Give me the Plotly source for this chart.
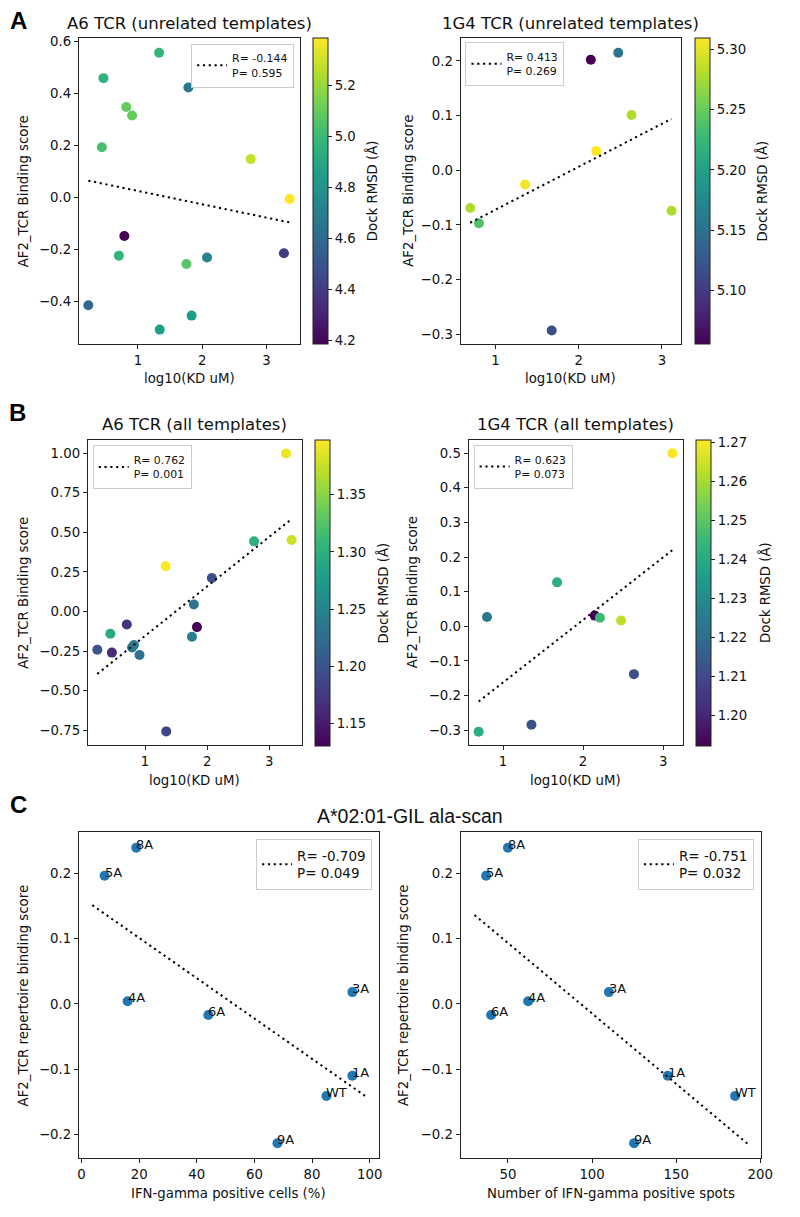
import plotly.graph_objects as go

FW, FH = 800, 1217
FONT = "DejaVu Sans"
SANS = "Liberation Sans"

# ---------------- data ----------------
# A6 TCR: log10(KD uM) shared by both A6 panels
a6_kd = [0.23, 0.44, 0.465, 0.705, 0.79, 0.82, 0.91, 1.33, 1.34, 1.755, 1.785, 1.835, 2.075, 2.755, 3.27, 3.36]
a6_unrel_score = [-0.415, 0.194, 0.460, -0.224, -0.148, 0.349, 0.316, 0.558, -0.509, -0.256, 0.424, -0.455, -0.231, 0.148, -0.215, -0.006]
a6_unrel_rmsd = [4.60, 5.03, 4.96, 4.97, 4.187, 5.10, 5.10, 4.98, 4.86, 5.07, 4.66, 4.85, 4.73, 5.28, 4.40, 5.386]
a6_all_score = [-0.242, -0.141, -0.260, -0.082, -0.228, -0.212, -0.275, 0.286, -0.758, -0.160, 0.044, -0.099, 0.212, 0.443, 0.998, 0.452]
a6_all_rmsd = [1.203, 1.291, 1.163, 1.171, 1.238, 1.240, 1.230, 1.398, 1.187, 1.246, 1.232, 1.131, 1.198, 1.300, 1.392, 1.377]

# 1G4 TCR
g4_kd = [0.695, 0.80, 1.355, 1.675, 2.145, 2.21, 2.475, 2.635, 3.115]
g4_unrel_score = [-0.069, -0.097, -0.026, -0.293, 0.202, 0.035, 0.215, 0.101, -0.074]
g4_unrel_rmsd = [5.279, 5.238, 5.305, 5.117, 5.0555, 5.3097, 5.152, 5.279, 5.279]
g4_all_score = [-0.304, 0.027, -0.284, 0.127, 0.031, 0.025, 0.017, -0.138, 0.4995]
g4_all_rmsd = [1.241, 1.2237, 1.212, 1.2417, 1.1923, 1.2456, 1.2629, 1.2119, 1.2707]

# A*02:01-GIL ala-scan
peptides = ["WT", "1A", "3A", "4A", "5A", "6A", "8A", "9A"]
ifn_cells = [85, 94, 94, 16, 8, 44, 19, 68]
ifn_spots = [185, 145, 110, 62, 37, 40, 50, 125]
rep_score = [-0.141, -0.110, 0.018, 0.004, 0.196, -0.017, 0.239, -0.213]

# regression lines (end points)
a6_unrel_fit = [0.065, -0.096]
g4_unrel_fit = [-0.096, 0.094]
a6_all_fit = [-0.395, 0.584]
g4_all_fit = [-0.217, 0.220]
cells_fit_x = [3.75, 98.5]
cells_fit_y = [0.151, -0.141]
spots_fit_x = [30.1, 192.5]
spots_fit_y = [0.136, -0.214]

stats = {
    "a6u": "R= -0.144<br>P= 0.595",
    "g4u": "R= 0.413<br>P= 0.269",
    "a6a": "R= 0.762<br>P= 0.001",
    "g4a": "R= 0.623<br>P= 0.073",
    "cc": "R= -0.709<br>P= 0.049",
    "cs": "R= -0.751<br>P= 0.032",
}

# ---------------- layout helpers (page pixel -> paper fraction) ----------------
def X(p):
    return p / FW

def Y(p):
    return 1 - p / FH

fig = go.Figure()

TICKF = dict(family=FONT, size=13.3, color="#111")
LINEC = "#222"
DOT = "2.2px,3.6px"

panels = [
    dict(i=1, xd=(78.3, 303.3), yd=(35, 342), xr=(0.084, 3.52), yr=(-0.565, 0.615), ydt=0.2, yf=".1f", xdt=1),
    dict(i=2, xd=(466.7, 691), yd=(35, 342), xr=(0.579, 3.228), yr=(-0.318, 0.242), ydt=0.1, yf=".1f", xdt=1),
    dict(i=3, xd=(87.3, 305), yd=(437.7, 744), xr=(0.0765, 3.522), yr=(-0.845, 1.086), ydt=0.25, yf=".2f", xdt=1),
    dict(i=4, xd=(475, 693.3), yd=(437.7, 744), xr=(0.571, 3.25), yr=(-0.343, 0.539), ydt=0.1, yf=".1f", xdt=1),
    dict(i=5, xd=(78.3, 383.3), yd=(831, 1158.3), xr=(-0.9, 103.1), yr=(-0.2364, 0.263), ydt=0.1, yf=".1f", xdt=20),
    dict(i=6, xd=(466.7, 772.3), yd=(831, 1158.3), xr=(21.8, 200.3), yr=(-0.2364, 0.263), ydt=0.1, yf=".1f", xdt=50),
]

layout = {}
for p in panels:
    i = p["i"]
    sx = "" if i == 1 else str(i)
    common = dict(showline=True, mirror=True, linecolor=LINEC, linewidth=1,
                  ticks="outside", ticklen=4, tickwidth=1, tickcolor=LINEC,
                  tickfont=TICKF, showgrid=False, zeroline=False)
    layout["xaxis" + sx] = dict(domain=[X(p["xd"][0]), X(p["xd"][1])], range=list(p["xr"]),
                                anchor="y" + sx, dtick=p["xdt"], tick0=0, **common)
    layout["yaxis" + sx] = dict(domain=[Y(p["yd"][1]), Y(p["yd"][0])], range=list(p["yr"]),
                                anchor="x" + sx, dtick=p["ydt"], tick0=0, tickformat=p["yf"], **common)


def colorbar(left, top, bottom, dtick, fmt):
    return dict(x=X(left), xanchor="left", y=Y(top), yanchor="top",
                len=(bottom - top) / FH, lenmode="fraction",
                thickness=15, thicknessmode="pixels", xpad=0, ypad=0,
                outlinewidth=1, outlinecolor=LINEC,
                ticks="outside", ticklen=4, tickwidth=1, tickcolor=LINEC,
                tickfont=TICKF, tickformat=fmt, dtick=dtick, tick0=0)


def scatter_panel(i, xs, ys, cs, cb, fit_y, stat, legname):
    sx = "" if i == 1 else str(i)
    fig.add_trace(go.Scatter(
        x=xs, y=ys, mode="markers", xaxis="x" + sx, yaxis="y" + sx, showlegend=False,
        marker=dict(size=10, color=cs, colorscale="Viridis", cmin=min(cs), cmax=max(cs),
                    showscale=True, line=dict(width=0), colorbar=cb)))
    fig.add_trace(go.Scatter(
        x=[min(xs), max(xs)], y=fit_y, mode="lines", xaxis="x" + sx, yaxis="y" + sx,
        line=dict(color="black", dash=DOT, width=2), name=stat, legend=legname, showlegend=True))


scatter_panel(1, a6_kd, a6_unrel_score, a6_unrel_rmsd, colorbar(317, 35, 342, 0.2, ".1f"), a6_unrel_fit, stats["a6u"], "legend")
scatter_panel(2, g4_kd, g4_unrel_score, g4_unrel_rmsd, colorbar(705.3, 35, 342, 0.05, ".2f"), g4_unrel_fit, stats["g4u"], "legend2")
scatter_panel(3, a6_kd, a6_all_score, a6_all_rmsd, colorbar(318.3, 437.7, 744, 0.05, ".2f"), a6_all_fit, stats["a6a"], "legend3")
scatter_panel(4, g4_kd, g4_all_score, g4_all_rmsd, colorbar(706, 437.7, 744, 0.01, ".2f"), g4_all_fit, stats["g4a"], "legend4")

# panel C
for i, xs, fx, fy, stat, legname in [(5, ifn_cells, cells_fit_x, cells_fit_y, stats["cc"], "legend5"),
                                    (6, ifn_spots, spots_fit_x, spots_fit_y, stats["cs"], "legend6")]:
    sx = str(i)
    fig.add_trace(go.Scatter(x=xs, y=rep_score, mode="markers", xaxis="x" + sx, yaxis="y" + sx,
                             showlegend=False, marker=dict(size=10, color="#1f77b4", line=dict(width=0))))
    fig.add_trace(go.Scatter(x=fx, y=fy, mode="lines", xaxis="x" + sx, yaxis="y" + sx,
                             line=dict(color="black", dash=DOT, width=2), name=stat,
                             legend=legname, showlegend=True))

annotations = []
for i, xs in [(5, ifn_cells), (6, ifn_spots)]:
    for lab, xv, yv in zip(peptides, xs, rep_score):
        annotations.append(dict(text=lab, x=xv, y=yv, xref="x%d" % i, yref="y%d" % i,
                                xanchor="left", yanchor="bottom", showarrow=False,
                                xshift=-2, yshift=-6, font=dict(family=FONT, size=13, color="#111")))


def leg(x, y, anchor, size):
    return dict(x=X(x), y=Y(y), xanchor=anchor, yanchor="top", xref="paper", yref="paper",
                bordercolor="#cccccc", borderwidth=1, bgcolor="rgba(255,255,255,0.8)",
                font=dict(family=FONT, size=size, color="#111"), itemwidth=30, tracegroupgap=0)

layout["legend"] = leg(297.3, 40.7, "right", 10.9)
layout["legend2"] = leg(471.7, 39.3, "left", 10.9)
layout["legend3"] = leg(92.3, 443.3, "left", 10.9)
layout["legend4"] = leg(480, 443, "left", 10.9)
layout["legend5"] = leg(376.7, 838.3, "right", 13.5)
layout["legend6"] = leg(765.3, 838.3, "right", 13.5)

def text_ann(t, cx, cy, font, angle=0):
    annotations.append(dict(text=t, x=X(cx), y=Y(cy), xref="paper", yref="paper", xanchor="center",
                            yanchor="middle", showarrow=False, textangle=angle, font=font))

# subplot titles
TITLEF = dict(family=FONT, size=16.5, color="#111")
for t, cx, cy in [("A6 TCR (unrelated templates)", 190.8, 21),
                  ("1G4 TCR (unrelated templates)", 578.8, 21),
                  ("A6 TCR (all templates)", 196.2, 423),
                  ("1G4 TCR (all templates)", 584.2, 423)]:
    text_ann(t, cx, cy, TITLEF)

# axis titles
for t, cx, cy in [("log10(KD uM)", 190.8, 376), ("log10(KD uM)", 578.8, 376),
                  ("log10(KD uM)", 196.2, 779), ("log10(KD uM)", 584.2, 779),
                  ("IFN-gamma positive cells (%)", 230.8, 1193),
                  ("Number of IFN-gamma positive spots", 619.5, 1193)]:
    text_ann(t, cx, cy, TICKF)
for t, cx, cy in [("AF2_TCR Binding score", 21.7, 188.5), ("AF2_TCR Binding score", 413, 188.5),
                  ("AF2_TCR Binding score", 21.7, 591), ("AF2_TCR Binding score", 418, 591),
                  ("AF2_TCR repertoire binding score", 21.7, 994.6),
                  ("AF2_TCR repertoire binding score", 408, 994.6)]:
    text_ann(t, cx, cy, TICKF, -90)

# colorbar titles
for cx, cy in [(376.7, 188.5), (774, 188.5), (387.7, 591), (776, 591)]:
    text_ann("Dock RMSD (Å)", cx, cy, TICKF, -90)

# panel letters
for t, cx, cy in [("A", 17, 18), ("B", 16, 411), ("C", 16.5, 803.5)]:
    text_ann("<b>%s</b>" % t, cx, cy, dict(family=SANS, size=24, color="#000"))

text_ann("A*02:01-GIL ala-scan", 415.5, 815.5, dict(family=SANS, size=19.5, color="#111"))

fig.update_layout(width=FW, height=FH, margin=dict(l=0, r=0, t=0, b=0), autosize=False,
                  plot_bgcolor="white", paper_bgcolor="white",
                  annotations=annotations, **layout)

# remove the default page margin so figure pixels map 1:1 to the window
page_css = ("document.body.style.margin='0px';"
            "document.body.style.overflow='hidden';"
            "document.documentElement.style.overflow='hidden';")
fig.write_html("out.html", config={"responsive": False, "displayModeBar": False}, post_script=page_css)
